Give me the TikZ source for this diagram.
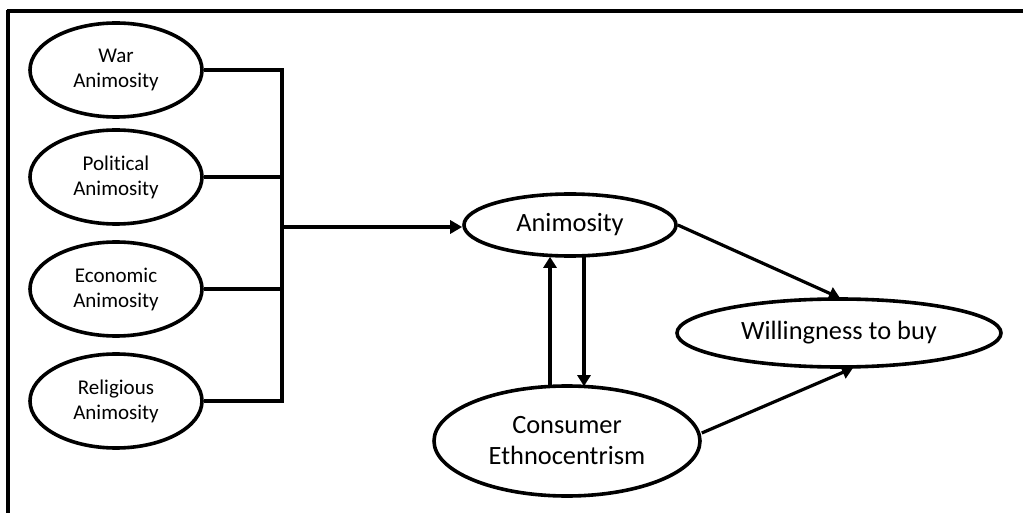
\documentclass[tikz,border=0pt]{standalone}
\usepackage{fontspec}
\setmainfont[RawFeature={-liga}]{Carlito}
\usetikzlibrary{shapes.geometric,arrows.meta}
\begin{document}
\begin{tikzpicture}[x=0.5pt,y=-0.5pt,
  oval/.style={draw,ellipse,line width=1.8pt,inner sep=0pt,align=center},
  smalloval/.style={oval,minimum width=86pt,minimum height=47pt,font=\fontsize{10.5}{12.5}\selectfont},
  link/.style={line width=1.7pt},
  arr/.style={line width=1.6pt,-{Triangle[length=5.5pt,width=6.5pt]}},
  mainarr/.style={line width=2.4pt,-{Triangle[length=6pt,width=6.5pt]}}
]
\useasboundingbox (0,0) rectangle (1023,513);
% frame
\draw[line width=2pt] (7,11) -- (1023,11);
\draw[line width=1.7pt] (8,10) -- (8,513);

% the four animosity dimensions
\node[smalloval] (war) at (116,70) {War\\Animosity};
\node[smalloval] (pol) at (116,177) {Political\\Animosity};
\node[smalloval] (eco) at (116,289) {Economic\\Animosity};
\node[smalloval] (rel) at (116,401) {Religious\\Animosity};

% main constructs
\node[oval,minimum width=106pt,minimum height=31pt,font=\fontsize{13.2}{15.5}\selectfont] (anim) at (570,225) {Animosity};
\node[oval,minimum width=133pt,minimum height=55pt,font=\fontsize{13.2}{15.5}\selectfont] (ce) at (567,441) {Consumer\\Ethnocentrism};
\node[oval,minimum width=162pt,minimum height=34pt,font=\fontsize{13.2}{15.5}\selectfont] (wtb) at (839,333) {Willingness to buy};

% bracket joining the dimensions
\coordinate (jt) at (282,70);
\coordinate (jb) at (282,401);
\coordinate (jm) at (282,227);
\draw[link] (war.east) -- (jt) -- (jb) -- (rel.east);
\draw[link] (pol.east) -- (pol.east -| jt);
\draw[link] (eco.east) -- (eco.east -| jt);
\draw[mainarr] (jm) -- (anim.west |- jm);

% reciprocal links
\coordinate (upx) at (550,0);
\coordinate (dnx) at (584,0);
\draw[arr] (ce.north -| upx) ++(0,1) -- ([yshift=0.5pt]anim.south -| upx);
\draw[arr] ([yshift=0.5pt]anim.south -| dnx) -- ([yshift=-1pt]ce.north -| dnx);

% paths to willingness to buy
\coordinate (wt) at (840,298);
\coordinate (wb) at (853,368);
\draw[arr] (anim.east) -- (wt);
\draw[arr] (ce.east) ++(0,-8) -- (wb);
\end{tikzpicture}
\end{document}
